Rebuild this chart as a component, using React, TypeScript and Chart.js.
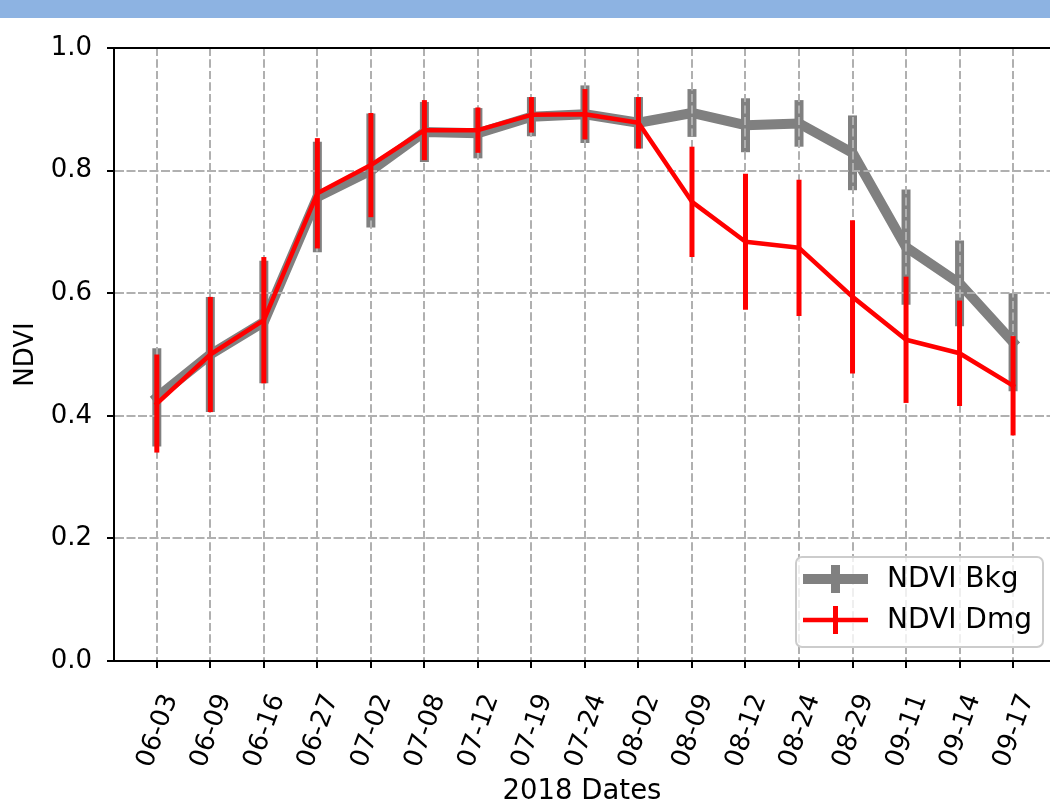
import React, { useEffect, useRef } from "react";
import { Chart, registerables } from "chart.js";

Chart.register(...registerables);

// Acquisition dates (2018)
const dates = [
  "06-03", "06-09", "06-16", "06-27", "07-02", "07-08", "07-12", "07-19", "07-24",
  "08-02", "08-09", "08-12", "08-24", "08-29", "09-11", "09-14", "09-17",
];

// Background (undamaged) NDVI: mean and ± spread
const bkgMean = [0.43, 0.5, 0.553, 0.757, 0.8, 0.863, 0.861, 0.888, 0.892, 0.878, 0.894, 0.874, 0.877, 0.829, 0.675, 0.616, 0.52];
const bkgErr = [0.08, 0.094, 0.1, 0.09, 0.093, 0.049, 0.041, 0.032, 0.047, 0.042, 0.039, 0.044, 0.038, 0.061, 0.094, 0.07, 0.08];

// Damaged NDVI: mean and ± spread
const dmgMean = [0.42, 0.5, 0.556, 0.763, 0.809, 0.866, 0.866, 0.891, 0.892, 0.878, 0.749, 0.684, 0.674, 0.594, 0.524, 0.502, 0.449];
const dmgErr = [0.08, 0.094, 0.103, 0.09, 0.085, 0.049, 0.037, 0.029, 0.041, 0.042, 0.09, 0.111, 0.111, 0.125, 0.103, 0.086, 0.081];

const yTicks = [0, 0.2, 0.4, 0.6, 0.8, 1.0];

const FONT = "'DejaVu Sans', sans-serif";
const GRID_COLOR = "#b0b0b0";
const GRID_DASH = [8, 3.5];

function drawGridOverlay(chart: any) {
  const { ctx, chartArea } = chart;
  const xs = chart.scales.x;
  const ys = chart.scales.y;
  ctx.save();
  ctx.beginPath();
  ctx.rect(chartArea.left, chartArea.top, chartArea.right - chartArea.left, chartArea.bottom - chartArea.top);
  ctx.clip();
  ctx.strokeStyle = GRID_COLOR;
  ctx.lineWidth = 2;
  ctx.setLineDash(GRID_DASH);
  dates.forEach((_, i) => {
    const px = Math.round(xs.getPixelForValue(i));
    ctx.beginPath();
    ctx.moveTo(px, chartArea.top);
    ctx.lineTo(px, chartArea.bottom - 2);
    ctx.stroke();
  });
  yTicks.forEach((v) => {
    if (v === 0) return;
    const py = Math.round(ys.getPixelForValue(v));
    ctx.beginPath();
    ctx.moveTo(chartArea.left + 2, py);
    ctx.lineTo(chartArea.right, py);
    ctx.stroke();
  });
  ctx.restore();
}

// Vertical error bars, drawn right after each dataset's line
const errorBarPlugin = {
  id: "errorBars",
  afterDatasetDraw(chart: any, args: any) {
    const ds = chart.data.datasets[args.index];
    const errs: number[] = ds.errorBars;
    const xs = chart.scales.x;
    const ys = chart.scales.y;
    const ctx = chart.ctx;
    ctx.save();
    ctx.strokeStyle = ds.borderColor;
    ctx.lineWidth = ds.errorBarWidth;
    ctx.lineCap = "butt";
    ds.data.forEach((p: any, i: number) => {
      const px = xs.getPixelForValue(p.x);
      ctx.beginPath();
      ctx.moveTo(px, ys.getPixelForValue(p.y - errs[i]));
      ctx.lineTo(px, ys.getPixelForValue(p.y + errs[i]));
      ctx.stroke();
    });
    ctx.restore();
    // grid sits above the background series but below the damaged one
    if (ds.gridAbove) drawGridOverlay(chart);
  },
};

// Top spine and the legend box in the lower-right corner
const framePlugin = {
  id: "frame",
  afterDraw(chart: any) {
    const { ctx, chartArea } = chart;
    ctx.save();
    ctx.strokeStyle = "#000";
    ctx.lineWidth = 2;
    ctx.beginPath();
    ctx.moveTo(chartArea.left - 1, chartArea.top);
    ctx.lineTo(chartArea.right, chartArea.top);
    ctx.stroke();

    const boxW = 247;
    const boxH = 90;
    const bx = chartArea.right - 7 - boxW;
    const by = chartArea.bottom - 14 - boxH;
    ctx.beginPath();
    ctx.roundRect(bx, by, boxW, boxH, 6);
    ctx.fillStyle = "rgba(255,255,255,0.8)";
    ctx.fill();
    ctx.strokeStyle = "#cccccc";
    ctx.lineWidth = 2;
    ctx.stroke();

    chart.data.datasets.forEach((ds: any, r: number) => {
      const cy = by + 22 + r * 41;
      const x0 = bx + 7;
      const x1 = bx + 72;
      const cx = (x0 + x1) / 2;
      ctx.strokeStyle = ds.borderColor;
      ctx.lineCap = "butt";
      ctx.lineWidth = ds.borderWidth;
      ctx.beginPath();
      ctx.moveTo(x0, cy);
      ctx.lineTo(x1, cy);
      ctx.stroke();
      ctx.lineWidth = ds.errorBarWidth;
      ctx.beginPath();
      ctx.moveTo(cx, cy - 14);
      ctx.lineTo(cx, cy + 14);
      ctx.stroke();
      ctx.fillStyle = "#000";
      ctx.font = `28px ${FONT}`;
      ctx.textBaseline = "middle";
      ctx.textAlign = "left";
      ctx.fillText(ds.label, bx + 91, cy + 1);
    });
    ctx.restore();
  },
};

export default function App() {
  const canvasRef = useRef<HTMLCanvasElement | null>(null);

  useEffect(() => {
    if (!canvasRef.current) return;
    const chart = new Chart(canvasRef.current, {
      type: "line",
      data: {
        datasets: [
          {
            label: "NDVI Bkg",
            data: bkgMean.map((v, i) => ({ x: i, y: v })),
            borderColor: "#808080",
            borderWidth: 10,
            borderCapStyle: "square",
            borderJoinStyle: "round",
            pointRadius: 0,
            order: 2,
            errorBars: bkgErr,
            errorBarWidth: 9,
            gridAbove: true,
          } as any,
          {
            label: "NDVI Dmg",
            data: dmgMean.map((v, i) => ({ x: i, y: v })),
            borderColor: "#ff0000",
            borderWidth: 4.5,
            borderCapStyle: "square",
            borderJoinStyle: "round",
            pointRadius: 0,
            order: 1,
            errorBars: dmgErr,
            errorBarWidth: 5,
            gridAbove: false,
          } as any,
        ],
      },
      options: {
        animation: false,
        responsive: false,
        devicePixelRatio: 1,
        layout: { padding: { top: 30, left: 0, right: 0, bottom: 0 } },
        plugins: { legend: { display: false }, tooltip: { enabled: false } },
        scales: {
          x: {
            type: "linear",
            min: -0.8,
            max: 16.69,
            afterBuildTicks: (scale: any) => {
              scale.ticks = dates.map((_, i) => ({ value: i }));
            },
            afterFit: (scale: any) => {
              scale.height = 144;
              scale.paddingLeft = 0;
              scale.paddingRight = 0;
            },
            ticks: {
              autoSkip: false,
              maxRotation: 70,
              minRotation: 70,
              padding: 22,
              labelOffset: 14,
              color: "#000",
              font: { family: FONT, size: 26 },
              callback: (v: any) => dates[Math.round(Number(v))] ?? "",
            },
            grid: {
              color: GRID_COLOR,
              lineWidth: 2,
              tickColor: "#000",
              tickLength: 7,
              tickWidth: 2,
              tickBorderDash: [],
            },
            border: { color: "#000", width: 2, dash: GRID_DASH },
            title: {
              display: true,
              text: "2018 Dates",
              color: "#000",
              font: { family: FONT, size: 27.5 },
              padding: { top: 0, bottom: -3 },
            },
          },
          y: {
            type: "linear",
            min: 0,
            max: 1,
            afterBuildTicks: (scale: any) => {
              scale.ticks = yTicks.map((v) => ({ value: v }));
            },
            afterFit: (scale: any) => {
              scale.width = 114;
              scale.paddingTop = 0;
              scale.paddingBottom = 0;
            },
            ticks: {
              padding: 15,
              color: "#000",
              font: { family: FONT, size: 26 },
              callback: (v: any) => Number(v).toFixed(1),
            },
            grid: {
              color: GRID_COLOR,
              lineWidth: 2,
              tickColor: "#000",
              tickLength: 7,
              tickWidth: 2,
              tickBorderDash: [],
            },
            border: { color: "#000", width: 2, dash: GRID_DASH },
            title: {
              display: true,
              text: "NDVI",
              color: "#000",
              font: { family: FONT, size: 26 },
              padding: { top: 11, bottom: 0 },
            },
          },
        },
      },
      plugins: [errorBarPlugin, framePlugin],
    });
    return () => chart.destroy();
  }, []);

  return (
    <div style={{ position: "fixed", left: 0, top: 0, width: 1050, height: 805, background: "#fff", overflow: "hidden" }}>
      <div style={{ height: 18, background: "#8db3e2" }} />
      <canvas ref={canvasRef} width={1050} height={787} style={{ display: "block", width: 1050, height: 787 }} />
    </div>
  );
}
